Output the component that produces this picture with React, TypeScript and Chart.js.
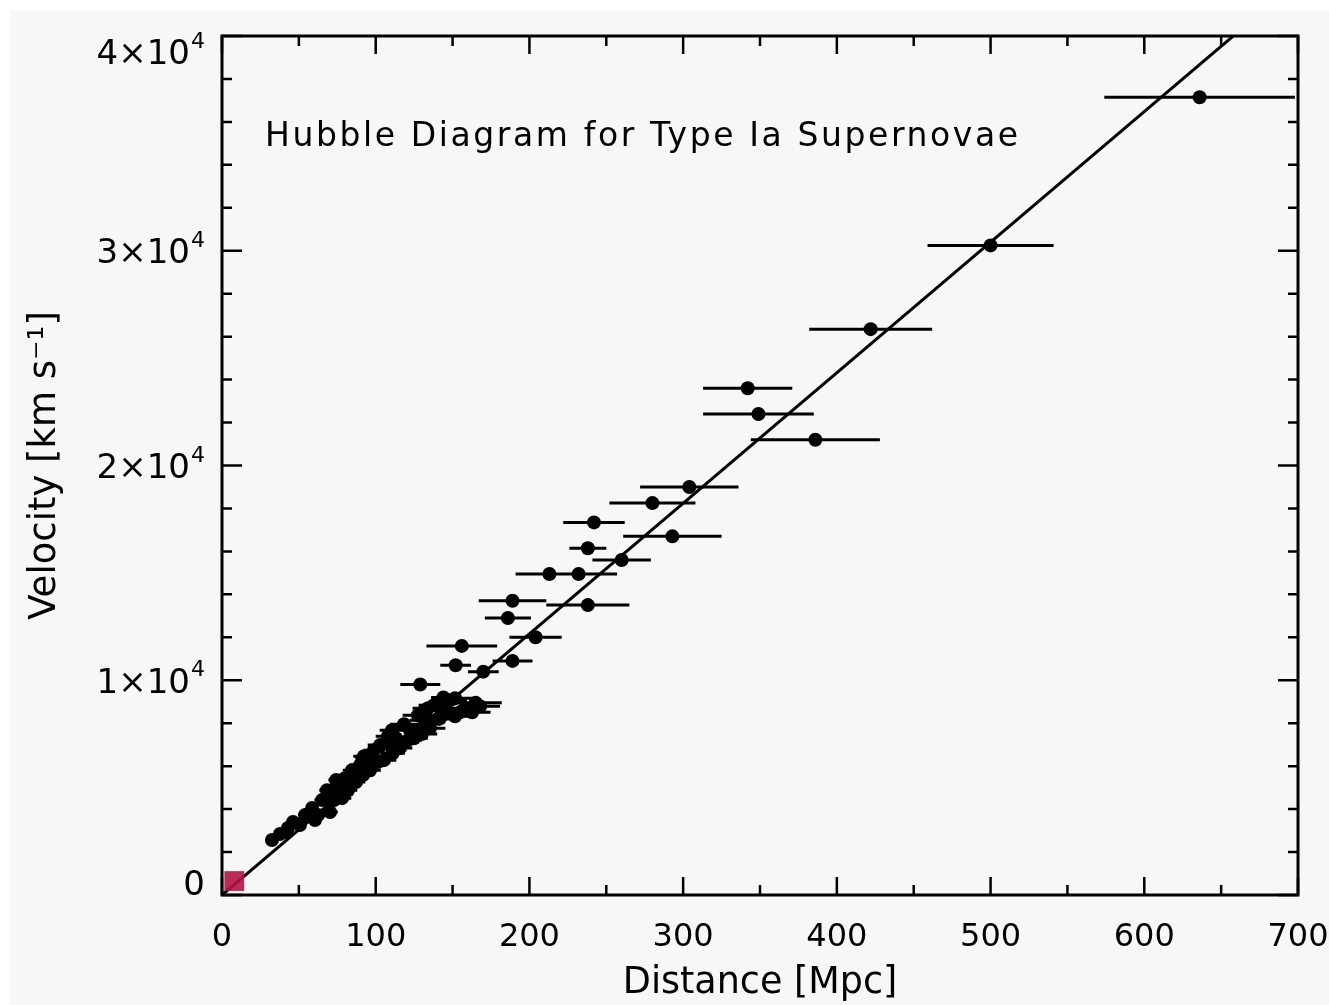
import React, { useEffect, useRef } from 'react';
import { Chart, registerables } from 'chart.js';

Chart.register(...registerables);

// ---- data ----
// Supernova distances [Mpc]
const distance = [
  636, 500, 422, 342, 349, 386, 304, 280, 242, 293, 238, 260, 213, 232, 189, 238, 186, 204, 156, 152, 170, 189, 129, 165, 144,
  32.5, 37.7, 42.9, 46.2, 54.0, 58.6, 60.5, 65.1, 68.3, 70.3, 75.5, 78.1, 80.0, 84.6, 87.2, 89.8, 93.7, 96.3, 98.9, 102.8,
  105.4, 108.0, 113.2, 115.8, 118.4, 122.3, 124.9, 127.5, 132.1, 135.3, 137.9, 145.1, 148.3, 151.6, 158.1, 162.7, 167.9,
  50.0, 72.0, 92.0, 111.0, 130.0, 141.0,
  50.7, 62.5, 72.9, 82.0, 91.1, 101.5, 110.6, 121.0, 130.1, 141.8, 154.8, 41.6, 74.2, 92.4, 110.6, 134.0, 151.6,
];
// Recession velocities [km/s]
const velocity = [
  37150, 30250, 26350, 23600, 22400, 21200, 19000, 18250, 17350, 16700, 16150, 15600, 14950, 14950, 13700, 13500, 12900, 12000,
  11600, 10700, 10400, 10900, 9800, 8950, 9200,
  2560, 2840, 3120, 3400, 3720, 4050, 3490, 4420, 4880, 3860, 5120, 4510, 5440, 5810, 5260, 6050, 6370, 5810, 6740, 6980,
  6280, 7390, 7300, 6840, 7950, 7670, 7300, 8370, 8140, 7770, 8840, 8600, 9070, 8320, 8700, 8510, 8790,
  3300, 4700, 5600, 6600, 7500, 8200,
  3260, 3720, 4420, 4880, 5580, 6190, 6840, 7210, 7770, 8230, 8510, 2930, 5350, 6460, 7670, 8700, 9160,
];
// Distance uncertainties [Mpc]
const distanceError = [
  62, 41, 40, 29, 36, 42, 32, 28, 20, 32, 12, 19, 22, 25, 22, 27, 15, 17, 23, 10, 10, 13, 13, 17, 8,
  3, 3, 3, 4, 4, 4, 4, 5, 5, 5, 5, 6, 6, 6, 6, 7, 7, 7, 7, 8, 8, 8, 8, 8, 9, 9, 9, 10, 10, 10, 10, 11, 11, 12, 12, 12, 13,
  4, 5, 7, 8, 10, 11,
  4, 5, 5, 6, 7, 7, 8, 9, 9, 10, 11, 3, 5, 7, 8, 10, 11,
];
// Nearby calibrator (red marker at origin)
const calibDistance = [8];
const calibVelocity = [650];
// Hubble-law fit line
const fitDistance = [0, 700];
const fitVelocity = [0, 42560];

// axis ticks
const X_MIN = 0;
const X_MAX = 700;
const X_MAJOR = 100;
const X_MINOR = 50;
const Y_MIN = 0;
const Y_MAX = 40000;
const Y_MAJOR = 10000;
const Y_MINOR = 2000;

const TITLE = 'Hubble Diagram for Type Ia Supernovae';
const X_TITLE = 'Distance [Mpc]';
const Y_TITLE = 'Velocity [km s\u207B\u00B9]';

const FONT = 'DejaVu Sans';

const decorPlugin = {
  id: 'decor',
  beforeDraw(chart: any) {
    const { ctx, width, height } = chart;
    ctx.save();
    ctx.fillStyle = '#ffffff';
    ctx.fillRect(0, 0, width, height);
    ctx.fillStyle = '#f7f7f7';
    ctx.fillRect(10, 10, width - 10, height - 10);
    ctx.restore();
  },
  beforeDatasetsDraw(chart: any) {
    const { ctx, chartArea } = chart;
    const { left, right, top, bottom } = chartArea;
    const xs = chart.scales.x;
    const ys = chart.scales.y;
    ctx.save();

    // frame
    ctx.strokeStyle = '#000';
    ctx.lineWidth = 3;
    ctx.strokeRect(left, top, right - left, bottom - top);

    // inward ticks on all sides
    ctx.lineWidth = 2.5;
    ctx.beginPath();
    for (let v = X_MIN; v <= X_MAX + 1e-9; v += X_MINOR) {
      const px = xs.getPixelForValue(v);
      const len = Math.abs(v % X_MAJOR) < 1e-9 ? 18 : 10;
      ctx.moveTo(px, bottom);
      ctx.lineTo(px, bottom - len);
      ctx.moveTo(px, top);
      ctx.lineTo(px, top + len);
    }
    for (let v = Y_MIN; v <= Y_MAX + 1e-9; v += Y_MINOR) {
      const py = ys.getPixelForValue(v);
      const len = Math.abs(v % Y_MAJOR) < 1e-9 ? 20 : 10;
      ctx.moveTo(left, py);
      ctx.lineTo(left + len, py);
      ctx.moveTo(right, py);
      ctx.lineTo(right - len, py);
    }
    ctx.stroke();

    // y tick labels with superscript exponents
    ctx.fillStyle = '#000';
    ctx.textAlign = 'right';
    ctx.textBaseline = 'alphabetic';
    const labelRight = left - 17;
    ys.ticks.forEach((t: any) => {
      const v = t.value;
      const py = ys.getPixelForValue(v);
      const cy = Math.min(Math.max(py, top + 16), bottom - 12);
      const mainSize = 34;
      const supSize = 22;
      if (v === 0) {
        ctx.font = `${mainSize}px ${FONT}`;
        ctx.fillText('0', labelRight, cy + mainSize * 0.365);
        return;
      }
      const exp = Math.floor(Math.log10(v) + 1e-9);
      const mant = Math.round(v / Math.pow(10, exp));
      ctx.font = `${supSize}px ${FONT}`;
      const supText = String(exp);
      const supW = ctx.measureText(supText).width;
      ctx.fillText(supText, labelRight, cy - 4);
      ctx.font = `${mainSize}px ${FONT}`;
      ctx.fillText(`${mant}\u00D710`, labelRight - supW - 1, cy + mainSize * 0.365);
    });

    // title inside the plot
    ctx.textAlign = 'left';
    ctx.font = `33px ${FONT}`;
    const w0 = ctx.measureText(TITLE).width;
    const targetW = 753;
    const sp = Math.max(0, (targetW - w0) / (TITLE.length - 1));
    (ctx as any).letterSpacing = `${sp}px`;
    ctx.fillText(TITLE, left + 43, top + 110);
    (ctx as any).letterSpacing = '0px';

    // horizontal error bars
    ctx.beginPath();
    ctx.rect(left, top, right - left, bottom - top);
    ctx.clip();
    ctx.strokeStyle = '#000';
    ctx.lineWidth = 3;
    ctx.beginPath();
    for (let i = 0; i < distance.length; i++) {
      const py = ys.getPixelForValue(velocity[i]);
      const x1 = xs.getPixelForValue(distance[i] - distanceError[i]);
      const x2 = xs.getPixelForValue(distance[i] + distanceError[i]);
      ctx.moveTo(x1, py);
      ctx.lineTo(x2, py);
    }
    ctx.stroke();
    ctx.restore();
  },
};

export default function App() {
  const canvasRef = useRef<HTMLCanvasElement | null>(null);

  useEffect(() => {
    if (!canvasRef.current) return;
    Chart.defaults.font.family = FONT;
    const points = distance.map((d, i) => ({ x: d, y: velocity[i] }));
    const calib = calibDistance.map((d, i) => ({ x: d, y: calibVelocity[i] }));
    const fit = fitDistance.map((d, i) => ({ x: d, y: fitVelocity[i] }));

    const chart = new Chart(canvasRef.current, {
      type: 'scatter',
      data: {
        datasets: [
          {
            type: 'line',
            label: 'Hubble law',
            data: fit,
            borderColor: '#000',
            borderWidth: 3,
            pointRadius: 0,
            fill: false,
            order: 3,
          } as any,
          {
            label: 'Type Ia supernovae',
            data: points,
            backgroundColor: '#000',
            borderColor: '#000',
            borderWidth: 0,
            pointRadius: 7,
            order: 2,
          },
          {
            label: 'Calibrators',
            data: calib,
            pointStyle: 'rect',
            backgroundColor: 'rgba(180,20,70,0.9)',
            borderWidth: 0,
            pointRadius: 14,
            clip: false,
            order: 1,
          } as any,
        ],
      },
      options: {
        responsive: false,
        animation: false,
        devicePixelRatio: 1,
        layout: { padding: { left: 10, top: 36, right: 31, bottom: 0 } },
        plugins: {
          legend: { display: false },
          tooltip: { enabled: false },
          title: { display: false },
        },
        scales: {
          x: {
            type: 'linear',
            position: 'bottom',
            min: X_MIN,
            max: X_MAX,
            grid: { display: false, drawTicks: false },
            border: { display: false },
            ticks: {
              stepSize: X_MAJOR,
              autoSkip: false,
              maxRotation: 0,
              padding: 23,
              color: '#000',
              font: { family: FONT, size: 32 },
            },
            title: {
              display: true,
              text: X_TITLE,
              color: '#000',
              font: { family: FONT, size: 36.5 },
              padding: { top: 0, bottom: 0 },
            },
            afterFit: (s: any) => {
              s.height = 110;
              s.paddingLeft = 0;
              s.paddingRight = 0;
            },
          },
          y: {
            type: 'linear',
            min: Y_MIN,
            max: Y_MAX,
            grid: { display: false, drawTicks: false },
            border: { display: false },
            ticks: { stepSize: Y_MAJOR, display: false },
            title: {
              display: true,
              text: Y_TITLE,
              color: '#000',
              font: { family: FONT, size: 37 },
              padding: { top: 13, bottom: 0 },
            },
            afterFit: (s: any) => {
              s.width = 212;
              s.paddingTop = 0;
              s.paddingBottom = 0;
            },
          },
        },
      } as any,
      plugins: [decorPlugin],
    });
    return () => chart.destroy();
  }, []);

  return (
    <div style={{ position: 'fixed', left: 0, top: 0, width: 1329, height: 1005, background: '#fff' }}>
      <canvas ref={canvasRef} width={1329} height={1005} style={{ display: 'block', width: 1329, height: 1005 }} />
    </div>
  );
}
